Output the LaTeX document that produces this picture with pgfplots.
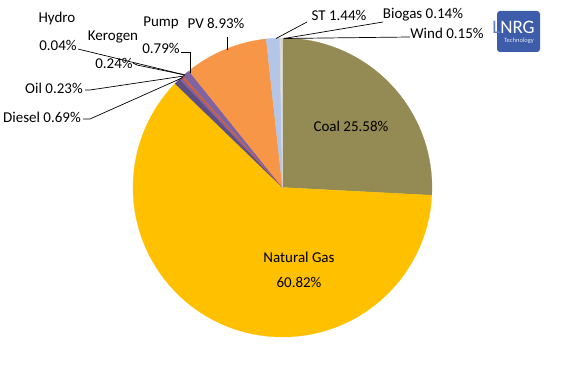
\documentclass[border=0pt]{standalone}
\usepackage{pgfplots}
\pgfplotsset{compat=1.18}
\usepackage{fontspec}
\setmainfont{Carlito}
\definecolor{coalc}{HTML}{948A54}
\definecolor{gasc}{HTML}{FFC000}
\definecolor{dieselc}{HTML}{5F4F80}
\definecolor{oilc}{HTML}{8064A2}
\definecolor{hydroc}{HTML}{C0504D}
\definecolor{kerogenc}{HTML}{D0603F}
\definecolor{pumpc}{HTML}{8064A2}
\definecolor{pvc}{HTML}{F79646}
\definecolor{stc}{HTML}{B3C6E7}
\definecolor{biogasc}{HTML}{E0DCCB}
\definecolor{windc}{HTML}{D8D8D8}
\definecolor{logoblue}{HTML}{3D5DAA}
\definecolor{logolight}{HTML}{5F7FC4}
\tikzset{lbl/.style={font=\fontsize{15bp}{18bp}\selectfont, inner sep=0pt, text=black}}
\begin{document}
\begin{tikzpicture}
\useasboundingbox (0,0) rectangle (566bp,377bp);
\begin{axis}[
  at={(0,0)}, anchor=south west,
  scale only axis, width=566bp, height=377bp,
  xmin=0, xmax=566, ymin=0, ymax=377,
  hide axis, clip=false
]
% shares (percent), clockwise from 12 o'clock
\def\slices{25.58/coalc, 60.82/gasc, 0.69/dieselc, 0.23/oilc, 0.04/hydroc, 0.24/kerogenc, 0.79/pumpc, 8.93/pvc, 1.44/stc, 0.14/biogasc, 0.15/windc}
\xdef\tot{0}
\foreach \v/\c in \slices {\pgfmathsetmacro\t{\tot+\v}\xdef\tot{\t}}
\xdef\curang{90}
\foreach \v/\c in \slices {
  \pgfmathsetmacro\endang{\curang-\v/\tot*360}
  \pgfmathsetmacro\sx{282.5+149.5*cos(\curang)}
  \pgfmathsetmacro\sy{189.5+149.5*sin(\curang)}
  \edef\temp{\noexpand\fill[\c, draw=\c, line width=0.2bp] (axis cs:282.5,189.5) -- (axis cs:\sx,\sy) arc[start angle=\curang, end angle=\endang, radius=149.5bp] -- cycle;}
  \temp
  \xdef\curang{\endang}
}
% leader lines
\draw[black, line width=0.7bp] (axis cs:78,328) -- (axis cs:82,327) -- (axis cs:185,302);
\draw[black, line width=0.7bp] (axis cs:133,314) -- (axis cs:137,312) -- (axis cs:185,302);
\draw[black, line width=0.7bp] (axis cs:85,287) -- (axis cs:90,287) -- (axis cs:184,301);
\draw[black, line width=0.7bp] (axis cs:83,258) -- (axis cs:90,258) -- (axis cs:183,299.5);
\draw[black, line width=0.7bp] (axis cs:181,325) -- (axis cs:190,325) -- (axis cs:190,304);
\draw[black, line width=0.7bp] (axis cs:227,340) -- (axis cs:227,327);
\draw[black, line width=0.7bp] (axis cs:307,355) -- (axis cs:276,338.5);
\draw[black, line width=0.7bp] (axis cs:383,355) -- (axis cs:284,338.5);
\draw[black, line width=0.7bp] (axis cs:410,340) -- (axis cs:284,338.5);
% labels
\node[lbl] at (axis cs:57,358) {Hydro};
\node[lbl] at (axis cs:58,332) {0.04\%};
\node[lbl] at (axis cs:113,340) {Kerogen};
\node[lbl] at (axis cs:114,314) {0.24\%};
\node[lbl] at (axis cs:161,354) {Pump};
\node[lbl] at (axis cs:161,329) {0.79\%};
\node[lbl] at (axis cs:54,289) {Oil 0.23\%};
\node[lbl] at (axis cs:42,260) {Diesel 0.69\%};
\node[lbl] at (axis cs:216,354) {PV 8.93\%};
\node[lbl] at (axis cs:339,362) {ST 1.44\%};
\node[lbl] at (axis cs:423,362) {Biogas 0.14\%};
\node[lbl] at (axis cs:447,344) {Wind 0.15\%};
\node[lbl] at (axis cs:351,251) {Coal 25.58\%};
\node[lbl] at (axis cs:299,120) {Natural Gas};
\node[lbl] at (axis cs:299,95) {60.82\%};
% logo
\fill[logoblue, rounded corners=3bp] (axis cs:497,325) rectangle (axis cs:540,366);
\node[inner sep=0pt, font=\fontsize{19bp}{20bp}\selectfont, text=white] at (axis cs:513.5,349.5) {\textcolor{logolight}{L}NRG};
\node[inner sep=0pt, font=\fontsize{6.5bp}{7bp}\selectfont, text=white!85!logoblue] at (axis cs:519,336) {Technology};
\end{axis}
\end{tikzpicture}
\end{document}
